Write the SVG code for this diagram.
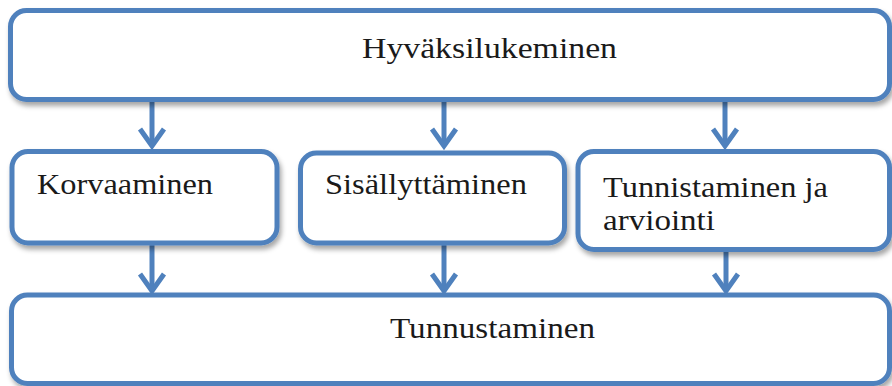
<svg xmlns="http://www.w3.org/2000/svg" width="892" height="386" viewBox="0 0 892 386">
<defs>
<style>
.box{fill:#ffffff;stroke:#4F81BD;stroke-width:5;filter:url(#sh)}
.lbl{font-family:"Liberation Serif","DejaVu Serif",serif;font-size:29px;fill:#1a1a1a}
.conn line{stroke:#4F81BD;stroke-width:5}
.conn path{fill:none;stroke:#4F81BD;stroke-width:5;stroke-linejoin:miter}
</style>
<filter id="sh" x="-5%" y="-10%" width="110%" height="130%">
<feDropShadow dx="2" dy="4" stdDeviation="2.5" flood-color="#000" flood-opacity="0.35"/>
</filter>
</defs>
<rect width="892" height="386" fill="#ffffff"/>
<g id="conn" class="conn">
<line x1="152" y1="101" x2="152" y2="145"/><path d="M140,129 L152,146 L164,129"/>
<line x1="444" y1="101" x2="444" y2="145"/><path d="M432,129 L444,146 L456,129"/>
<line x1="725" y1="101" x2="725" y2="145"/><path d="M713,129 L725,146 L737,129"/>
<line x1="152" y1="245" x2="152" y2="290"/><path d="M140,274 L152,291 L164,274"/>
<line x1="444" y1="245" x2="444" y2="290"/><path d="M432,274 L444,291 L456,274"/>
<line x1="726" y1="251" x2="726" y2="290"/><path d="M714,274 L726,291 L738,274"/>
</g>
<g id="n-top">
<rect class="box" x="10.5" y="10.5" width="879" height="89" rx="16"/>
<text class="lbl" x="362" y="58" textLength="255" lengthAdjust="spacingAndGlyphs">Hyväksilukeminen</text>
</g>
<g id="n-korvaaminen">
<rect class="box" x="12" y="151.5" width="265" height="91.5" rx="16"/>
<text class="lbl" x="37" y="194" textLength="176" lengthAdjust="spacingAndGlyphs">Korvaaminen</text>
</g>
<g id="n-sisallyttaminen">
<rect class="box" x="300.5" y="153" width="264" height="90" rx="16"/>
<text class="lbl" x="325" y="194" textLength="202" lengthAdjust="spacingAndGlyphs">Sisällyttäminen</text>
</g>
<g id="n-tunnistaminen">
<rect class="box" x="578" y="151.5" width="311.5" height="98" rx="16"/>
<text class="lbl" x="603" y="197" textLength="225" lengthAdjust="spacingAndGlyphs">Tunnistaminen ja</text>
<text class="lbl" x="603" y="230" textLength="112" lengthAdjust="spacingAndGlyphs">arviointi</text>
</g>
<g id="n-tunnustaminen">
<rect class="box" x="11.5" y="295" width="878" height="88.5" rx="16"/>
<text class="lbl" x="390" y="338" textLength="205" lengthAdjust="spacingAndGlyphs">Tunnustaminen</text>
</g>
</svg>
